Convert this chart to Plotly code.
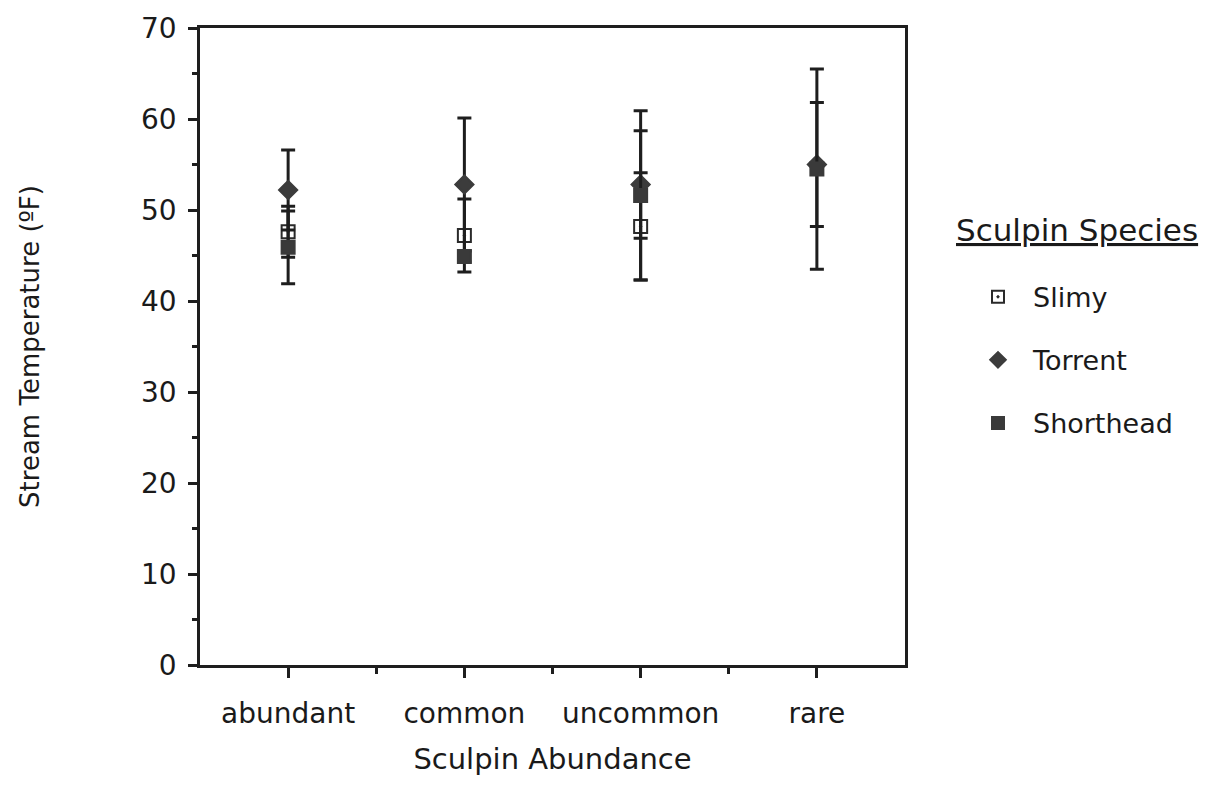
import plotly.graph_objects as go

categories = ["abundant", "common", "uncommon", "rare"]
species = ["Slimy", "Torrent", "Shorthead"]
slimy = [47.6, 47.2, 48.2, None]
slimy_err = [2.8, 4.0, 5.9, None]
torrent = [52.2, 52.8, 52.8, 55.0]
torrent_err = [4.4, 7.3, 5.9, 6.8]
shorthead = [45.9, 44.9, 51.6, 54.5]
shorthead_err = [4.0, 0.6, 9.3, 11.0]
y_ticks = [0, 10, 20, 30, 40, 50, 60, 70]

FONT = "DejaVu Sans"
INK = "#1e1e1e"
xpos = [i + 0.5 for i in range(len(categories))]

series = [
    (species[0], slimy, slimy_err, "square-open-dot", 13, "#2a2a2a"),
    (species[1], torrent, torrent_err, "diamond", 14, "#3c3c3c"),
    (species[2], shorthead, shorthead_err, "square", 13, "#3a3a3a"),
]

fig = go.Figure()
for i, (name, vals, errs, sym, size, col) in enumerate(series):
    fig.add_trace(go.Scatter(
        x=xpos, y=vals, name=name, mode="markers",
        legendgroup=f"g{i}",
        marker=dict(symbol=sym, size=size, color=col,
                    line=dict(color=col, width=2)),
        error_y=dict(type="data", array=errs, visible=True,
                     color=INK, thickness=3, width=7),
    ))

fig.update_layout(
    width=1205, height=803,
    margin=dict(l=200, r=300, t=22, b=138),
    paper_bgcolor="white", plot_bgcolor="white",
    font=dict(family=FONT, size=26, color="#1a1a1a"),
    showlegend=True,
    legend=dict(x=(963 - 200) / 705, y=(665 - 269) / 643,
                xanchor="left", yanchor="top",
                font=dict(family=FONT, size=27, color="#1a1a1a"),
                tracegroupgap=25, itemsizing="constant", itemwidth=60,
                bgcolor="rgba(0,0,0,0)"),
    annotations=[dict(text="<u>Sculpin Species</u>",
                      x=(1077 - 200) / 705, y=(665 - 226) / 643,
                      xref="paper", yref="paper", showarrow=False,
                      xanchor="center", yanchor="middle",
                      font=dict(family=FONT, size=31, color="#1a1a1a"))],
)

fig.update_xaxes(
    range=[0, 4], tickvals=xpos, ticktext=categories,
    ticks="outside", ticklen=10, tickwidth=2.5, tickcolor=INK,
    minor=dict(tickvals=[1, 2, 3], ticks="outside", ticklen=6,
               tickwidth=2.5, tickcolor=INK),
    showline=True, linewidth=2.5, linecolor=INK, mirror=True,
    showgrid=False, zeroline=False, ticklabelstandoff=12,
    tickfont=dict(family=FONT, size=28),
    title=dict(text="Sculpin Abundance", standoff=20,
               font=dict(family=FONT, size=29)),
)
fig.update_yaxes(
    range=[0, 70], tickvals=y_ticks,
    ticks="outside", ticklen=9, tickwidth=2.5, tickcolor=INK,
    minor=dict(dtick=5, tick0=0, ticks="outside", ticklen=5,
               tickwidth=2.5, tickcolor=INK),
    showline=True, linewidth=2.5, linecolor=INK, mirror=True,
    showgrid=False, zeroline=False, ticklabelstandoff=6,
    tickfont=dict(family=FONT, size=28),
    title=dict(text="Stream Temperature (ºF)", standoff=94,
               font=dict(family=FONT, size=26)),
)

fig.write_html("out.html")
